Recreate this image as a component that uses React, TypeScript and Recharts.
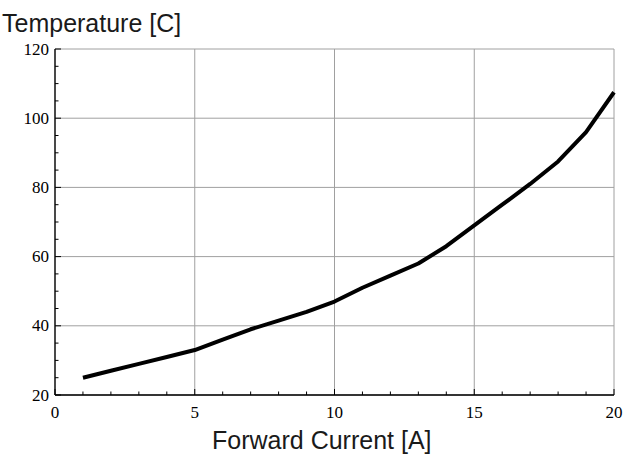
import { LineChart, Line, XAxis, YAxis, CartesianGrid } from 'recharts'

const current = [1, 2, 3, 4, 5, 6, 7, 8, 9, 10, 11, 12, 13, 14, 15, 16, 17, 18, 19, 20]
const temperature = [25, 27, 29, 31, 33, 36, 39, 41.5, 44, 47, 51, 54.5, 58, 63, 69, 75, 81, 87.5, 96, 107.5]

const xTicks = [0, 1, 2, 3, 4, 5, 6, 7, 8, 9, 10, 11, 12, 13, 14, 15, 16, 17, 18, 19, 20]
const xMajor = [0, 5, 10, 15, 20]
const yTicks = [20, 25, 30, 35, 40, 45, 50, 55, 60, 65, 70, 75, 80, 85, 90, 95, 100, 105, 110, 115, 120]
const yMajor = [20, 40, 60, 80, 100, 120]

const data = current.map((c, i) => ({ c, t: temperature[i] }))

const tickFont = { fontFamily: '"Liberation Serif", serif', fontSize: 17, fill: '#000' }
const titleFont = { fontFamily: '"Liberation Sans", sans-serif', fontSize: 25, color: '#1a1a1a' }

// ticks point inward; only the major ones get a label
function XTick({ x, y, payload }: any) {
  const major = xMajor.includes(payload.value)
  return (
    <g>
      <line x1={x} x2={x} y1={y} y2={y - (major ? 6 : 3.5)} stroke="#000" strokeWidth={1} />
      {major && <text x={x} y={y + 17} textAnchor="middle" dominantBaseline="central" {...tickFont}>{payload.value}</text>}
    </g>
  )
}

function YTick({ x, y, payload }: any) {
  const major = yMajor.includes(payload.value)
  return (
    <g>
      <line x1={x} x2={x + (major ? 6 : 3.5)} y1={y} y2={y} stroke="#000" strokeWidth={1} />
      {major && <text x={x - 6} y={y} textAnchor="end" dominantBaseline="central" {...tickFont}>{payload.value}</text>}
    </g>
  )
}

export default function App() {
  return (
    <div style={{ position: 'absolute', left: 0, top: 0, width: 626, height: 463, background: '#fff' }}>
      <div style={{ ...titleFont, position: 'absolute', left: 2, top: 9, lineHeight: '28px' }}>Temperature [C]</div>
      <LineChart width={626} height={463} data={data} margin={{ top: 49, right: 12, bottom: 0, left: 0 }}>
        <CartesianGrid stroke="#a0a0a0" strokeWidth={1} horizontalValues={yMajor} verticalValues={xMajor} />
        <XAxis dataKey="c" type="number" domain={[0, 20]} ticks={xTicks} interval={0} height={68}
          tickSize={0} tickMargin={0} tick={<XTick />} stroke="#000" strokeWidth={1.3} />
        <YAxis type="number" domain={[20, 120]} ticks={yTicks} interval={0} width={55}
          tickSize={0} tickMargin={0} tick={<YTick />} stroke="#000" strokeWidth={1.3} />
        <Line type="linear" dataKey="t" stroke="#000" strokeWidth={4} dot={false}
          strokeLinejoin="round" isAnimationActive={false} />
      </LineChart>
      <div style={{ ...titleFont, position: 'absolute', left: 212, top: 426, lineHeight: '28px' }}>Forward Current [A]</div>
    </div>
  )
}
